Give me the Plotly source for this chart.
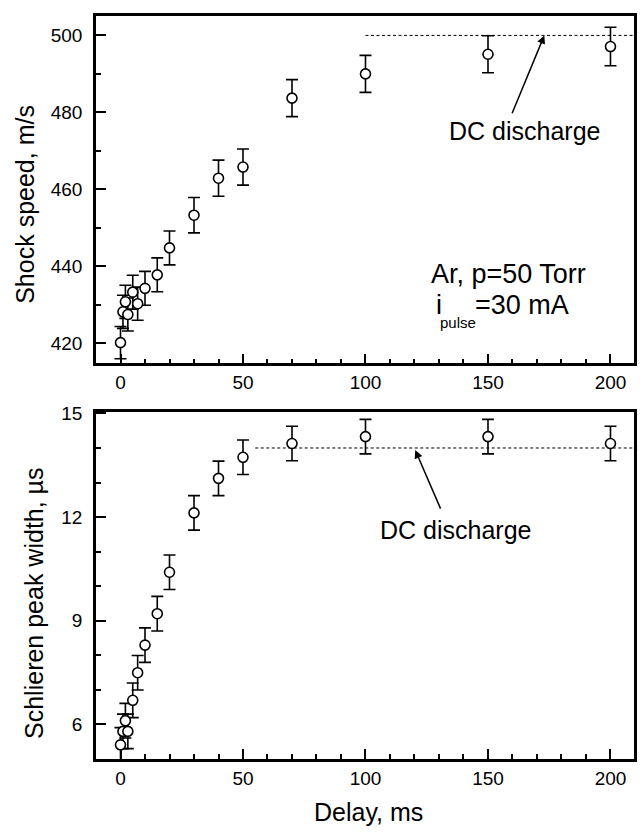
import plotly.graph_objects as go

# Delay between the discharge pulse and the shock arrival, ms
delay = [0, 1, 2, 3, 5, 7, 10, 15, 20, 30, 40, 50, 70, 100, 150, 200]

# Shock speed, m/s, with error bars
shock_speed = [420.2, 428.2, 430.8, 427.5, 433.3, 430.3, 434.3, 437.8, 444.8,
               453.3, 462.9, 465.8, 483.7, 490.0, 495.1, 497.1]
shock_err = [4.2, 4.3, 4.3, 4.3, 4.4, 4.3, 4.4, 4.4, 4.4,
             4.6, 4.7, 4.7, 4.8, 4.8, 4.8, 5.0]

# Schlieren peak width, microseconds, with error bars
peak_width = [5.40, 5.79, 6.10, 5.79, 6.69, 7.49, 8.29, 9.20, 10.40,
              12.12, 13.12, 13.73, 14.13, 14.33, 14.33, 14.13]
width_err = [0.5, 0.5, 0.5, 0.5, 0.5, 0.5, 0.5, 0.5, 0.5,
             0.5, 0.5, 0.5, 0.5, 0.5, 0.5, 0.5]

# Steady DC discharge levels and the delay span they are drawn over
dc_speed = 500
dc_speed_span = [100, 209.6]
dc_width = 14
dc_width_span = [55, 209.6]

x_ticks = [0, 50, 100, 150, 200]
speed_ticks = [420, 440, 460, 480, 500]
width_ticks = [6, 9, 12, 15]

FONT = "Liberation Sans, Arial, Helvetica, sans-serif"

marker = dict(symbol="circle", size=10, color="white",
              line=dict(color="black", width=1.6))


def err(vals):
    return dict(type="data", array=vals, visible=True, color="black",
                thickness=1.6, width=6)


fig = go.Figure()

fig.add_trace(go.Scatter(x=dc_speed_span, y=[dc_speed, dc_speed], mode="lines",
                         line=dict(color="black", width=1, dash="3px,2.5px"),
                         xaxis="x", yaxis="y", showlegend=False, hoverinfo="skip"))
fig.add_trace(go.Scatter(x=delay, y=shock_speed, mode="markers", marker=marker,
                         error_y=err(shock_err), xaxis="x", yaxis="y",
                         showlegend=False))

fig.add_trace(go.Scatter(x=dc_width_span, y=[dc_width, dc_width], mode="lines",
                         line=dict(color="black", width=1, dash="3px,2.5px"),
                         xaxis="x2", yaxis="y2", showlegend=False, hoverinfo="skip"))
fig.add_trace(go.Scatter(x=delay, y=peak_width, mode="markers", marker=marker,
                         error_y=err(width_err), xaxis="x2", yaxis="y2",
                         showlegend=False))

axis_common = dict(showline=True, mirror=True, linecolor="black", linewidth=2.5,
                   ticks="inside", ticklen=10, tickwidth=2, tickcolor="black",
                   showgrid=False, zeroline=False,
                   tickfont=dict(family=FONT, size=19, color="black"))

minor_x = dict(ticks="inside", dtick=10, ticklen=5, tickwidth=2, tickcolor="black")

fig.update_layout(
    width=644, height=832,
    margin=dict(l=96, r=7, t=13, b=73),
    paper_bgcolor="white", plot_bgcolor="white",
    font=dict(family=FONT, color="black"),
    xaxis=dict(domain=[0, 1], anchor="y", range=[-10, 209.6],
               tickvals=x_ticks, minor=minor_x, **axis_common),
    yaxis=dict(domain=[0.5326, 1], anchor="x", range=[414.83, 505.04],
               tickvals=speed_ticks, ticklabelstandoff=7,
               minor=dict(ticks="inside", dtick=10, ticklen=5, tickwidth=2,
                          tickcolor="black"),
               **axis_common),
    xaxis2=dict(domain=[0, 1], anchor="y2", range=[-10, 209.6],
                tickvals=x_ticks, minor=minor_x, **axis_common),
    yaxis2=dict(domain=[0, 0.4669], anchor="x2", range=[4.99, 15.04],
                tickvals=width_ticks, ticklabelstandoff=7,
                minor=dict(ticks="inside", dtick=1, ticklen=5, tickwidth=2,
                           tickcolor="black"),
                **axis_common),
)

ann = []
# axis titles
ann.append(dict(text="Shock speed, m/s", xref="paper", yref="paper",
                x=-0.1323, y=0.747, textangle=-90, showarrow=False,
                xanchor="center", yanchor="middle",
                font=dict(family=FONT, size=25)))
ann.append(dict(text="Schlieren peak width, \u00b5s", xref="paper", yref="paper",
                x=-0.1165, y=0.2091, textangle=-90, showarrow=False,
                xanchor="center", yanchor="middle",
                font=dict(family=FONT, size=25)))
ann.append(dict(text="Delay, ms", xref="paper", yref="paper",
                x=0.5065, y=-0.0715, showarrow=False,
                xanchor="center", yanchor="middle",
                font=dict(family=FONT, size=25)))

# DC discharge labels and arrows
ann.append(dict(text="DC discharge", xref="x", yref="y", x=164.9, y=475.24,
                showarrow=False, xanchor="center", yanchor="middle",
                font=dict(family=FONT, size=25)))
ann.append(dict(text="", xref="x", yref="y", x=173.0, y=500,
                axref="x", ayref="y", ax=159.6, ay=479.4,
                showarrow=True, arrowhead=2, arrowsize=1.1, arrowwidth=1.5,
                arrowcolor="black", standoff=0, startstandoff=0))
ann.append(dict(text="DC discharge", xref="x2", yref="y2", x=136.7, y=11.62,
                showarrow=False, xanchor="center", yanchor="middle",
                font=dict(family=FONT, size=25)))
ann.append(dict(text="", xref="x2", yref="y2", x=120.3, y=13.94,
                axref="x2", ayref="y2", ax=130.9, ay=12.2,
                showarrow=True, arrowhead=2, arrowsize=1.1, arrowwidth=1.5,
                arrowcolor="black", standoff=0, startstandoff=0))

# experimental conditions
ann.append(dict(text="Ar, p=50 Torr", xref="x", yref="y", x=126.1, y=437.94,
                showarrow=False, xanchor="left", yanchor="middle",
                font=dict(family=FONT, size=27)))
ann.append(dict(text="i", xref="x", yref="y", x=127.8, y=429.93,
                showarrow=False, xanchor="left", yanchor="middle",
                font=dict(family=FONT, size=27)))
ann.append(dict(text="pulse", xref="x", yref="y", x=129.5, y=425.5,
                showarrow=False, xanchor="left", yanchor="middle",
                font=dict(family=FONT, size=15)))
ann.append(dict(text="=30 mA", xref="x", yref="y", x=143.7, y=429.93,
                showarrow=False, xanchor="left", yanchor="middle",
                font=dict(family=FONT, size=27)))

fig.update_layout(annotations=ann)

fig.write_html("out.html")
